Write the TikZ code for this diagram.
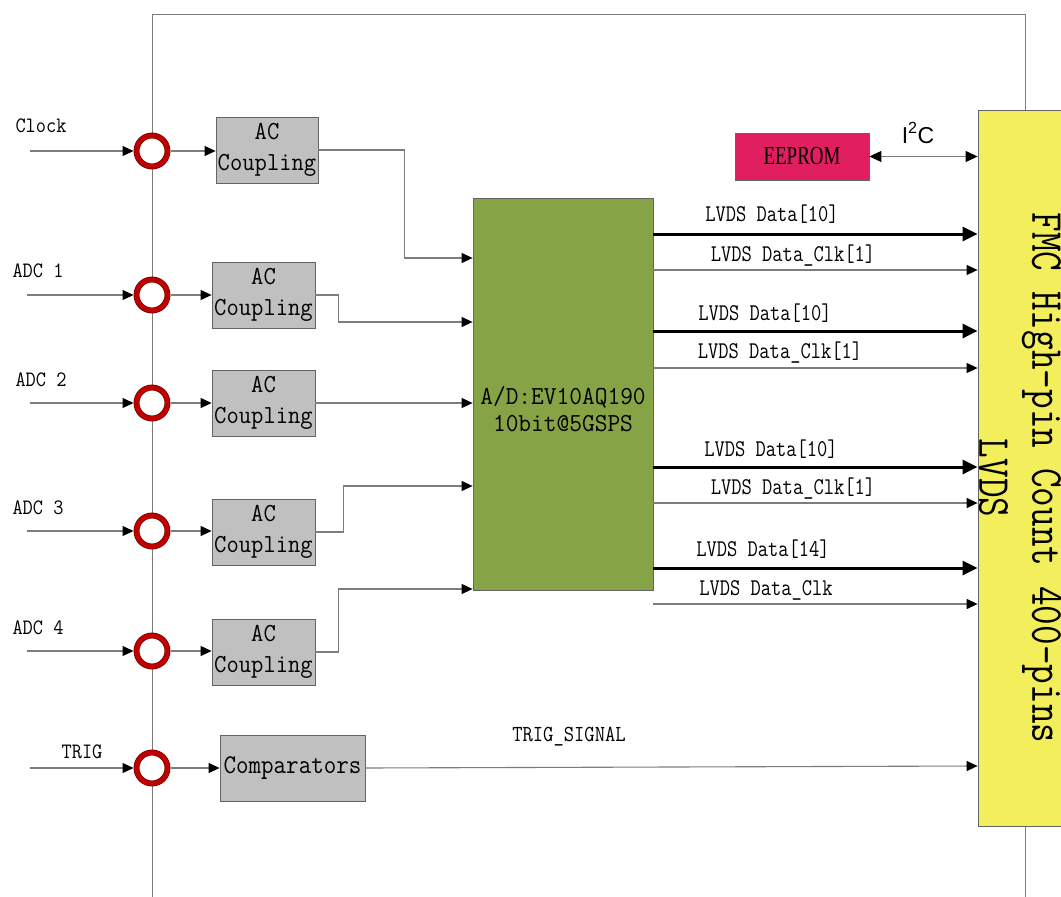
\documentclass[tikz,border=0pt]{standalone}
\usepackage{fontspec}
\newfontfamily\arialf{Liberation Sans}
\newfontfamily\timesf{Liberation Serif}
\usetikzlibrary{arrows.meta}
\newcommand\cnd[2]{\scalebox{#1}[1]{#2}}
\definecolor{wiregray}{RGB}{125,125,125}
\definecolor{boxborder}{RGB}{100,100,100}
\definecolor{ringred}{RGB}{192,0,0}
\definecolor{ringdark}{RGB}{110,0,0}
\definecolor{boxgray}{RGB}{192,192,192}
\definecolor{adcgreen}{RGB}{134,164,70}
\definecolor{fmcyellow}{RGB}{242,238,92}
\definecolor{eepred}{RGB}{224,30,96}
\begin{document}
\begin{tikzpicture}[x=1pt,y=-1pt,
  wire/.style={draw=wiregray,line width=1.1pt},
  awire/.style={wire,-{Triangle[length=11pt,width=10pt,color=black]}},
  bus/.style={draw=black,line width=3pt,-{Triangle[length=15pt,width=14pt]}},
  ring/.style={circle,draw=ringdark,double=ringred,double distance=4.5pt,line width=0.7pt,fill=white,minimum size=31pt,inner sep=0pt,outer sep=3pt},
  acbox/.style={rectangle,draw=boxborder,fill=boxgray,line width=0.8pt,minimum width=103pt,minimum height=66pt,inner sep=0pt,align=center,font=\fontsize{26}{31}\selectfont\ttfamily},
  inlbl/.style={inner sep=0pt,font=\fontsize{22}{26}\selectfont\ttfamily},
  buslbl/.style={inner sep=0pt,font=\fontsize{24}{28}\selectfont\ttfamily},
]
\useasboundingbox (0,0) rectangle (1061,897);
\clip (0,0) rectangle (1061,897);
\fill[white] (0,0) rectangle (1061,897);

% frame
\draw[wire,line width=1pt] (152,900) -- (152,14) -- (1025,14) -- (1025,900);

% FMC connector
\node[rectangle,draw=boxborder,fill=fmcyellow,line width=0.8pt,minimum width=97pt,minimum height=716pt,inner sep=0pt] (fmc) at (1026.5,468) {};
\node[rotate=-90,align=center,inner sep=0pt,font=\fontsize{46}{53}\selectfont\ttfamily] (fmctxt) at (1020,478) {\cnd{0.83}{FMC High-pin Count 400-pins}\\\cnd{0.83}{LVDS}};

% EEPROM
\node[rectangle,draw=boxborder,fill=eepred,line width=0.8pt,minimum width=134pt,minimum height=47pt,inner sep=0pt,font=\fontsize{26}{30}\selectfont\timesf] (eep) at (802,156.5) {\cnd{0.73}{EEPROM}};
\draw[wire,{Triangle[length=12pt,width=11pt,color=black]}-{Triangle[length=12pt,width=11pt,color=black]}] (eep.east) -- (fmc.west |- eep.east);
\node[inner sep=0pt,font=\fontsize{23}{26}\selectfont\arialf] (i2c) at (918,133) {I\textsuperscript{2}C};

% ADC
\node[rectangle,draw=boxborder,fill=adcgreen,line width=0.8pt,minimum width=180pt,minimum height=392pt,inner sep=0pt] (adc) at (563,394) {};
\node[align=center,inner sep=0pt,font=\fontsize{26}{27}\selectfont\ttfamily] (adctxt) at (563,409) {\cnd{0.95}{A/D:EV10AQ190}\\\cnd{0.95}{10bit@5GSPS}};

% rings
\node[ring] (r0) at (152,151) {};
\node[ring] (r1) at (152,295) {};
\node[ring] (r2) at (152,403) {};
\node[ring] (r3) at (152,531) {};
\node[ring] (r4) at (152,651) {};
\node[ring] (r5) at (152,768) {};

% inputs
\coordinate (i0) at (30,151);
\coordinate (i1) at (27,295);
\coordinate (i2) at (30,403);
\coordinate (i3) at (27,531);
\coordinate (i4) at (27,651);
\coordinate (i5) at (30,768);
\foreach \k in {0,...,5}{\draw[awire] (i\k) -- (r\k.west);}
\node[inlbl] (l0) at (41,126) {\cnd{0.9}{Clock}};
\node[inlbl] (l1) at (38,271) {\cnd{0.9}{ADC 1}};
\node[inlbl] (l2) at (41,380) {\cnd{0.9}{ADC 2}};
\node[inlbl] (l3) at (38,508) {\cnd{0.9}{ADC 3}};
\node[inlbl] (l4) at (38,628) {\cnd{0.9}{ADC 4}};
\node[inlbl] (l5) at (82,752) {\cnd{0.9}{TRIG}};

% AC coupling boxes
\node[acbox,minimum width=102pt] (a0) at (267,150) {\cnd{0.92}{AC}\\\cnd{0.92}{Coupling}};
\node[acbox] (a1) at (263.5,295) {\cnd{0.92}{AC}\\\cnd{0.92}{Coupling}};
\node[acbox] (a2) at (263.5,403) {\cnd{0.92}{AC}\\\cnd{0.92}{Coupling}};
\node[acbox] (a3) at (263.5,532) {\cnd{0.92}{AC}\\\cnd{0.92}{Coupling}};
\node[acbox] (a4) at (263.5,652) {\cnd{0.92}{AC}\\\cnd{0.92}{Coupling}};
\node[acbox,minimum width=145pt,font=\fontsize{27}{31}\selectfont\ttfamily] (a5) at (292.5,768) {\cnd{0.9}{Comparators}};
\foreach \k in {0,...,5}{\draw[awire] (r\k.east) -- (a\k.west |- r\k.east);}

% AC -> ADC
\draw[awire] (a0.east) -- ++(86,0) |- (adc.west |- 0,258);
\draw[awire] (a1.east) -- ++(23,0) |- (adc.west |- 0,322);
\draw[awire] (a2.east) -- (adc.west |- a2.east);
\draw[awire] (a3.east) -- ++(28,0) |- (adc.west |- 0,486);
\draw[awire] (a4.east) -- ++(23,0) |- (adc.west |- 0,589);

% ADC -> FMC
\draw[bus] (adc.east |- 0,234) -- (fmc.west |- 0,234);
\draw[awire] (adc.east |- 0,270) -- (fmc.west |- 0,270);
\draw[bus] (adc.east |- 0,331) -- (fmc.west |- 0,331);
\draw[awire] (adc.east |- 0,368) -- (fmc.west |- 0,368);
\draw[bus] (adc.east |- 0,467) -- (fmc.west |- 0,467);
\draw[awire] (adc.east |- 0,503) -- (fmc.west |- 0,503);
\draw[bus] (adc.east |- 0,568) -- (fmc.west |- 0,568);
\draw[awire] (adc.east |- 0,604) -- (fmc.west |- 0,604);
\node[buslbl] (b1) at (772,214) {\cnd{0.83}{LVDS Data[10]}};
\node[buslbl] (b2) at (793,256) {\cnd{0.83}{LVDS Data\_Clk[1]}};
\node[buslbl] (b3) at (765,313) {\cnd{0.83}{LVDS Data[10]}};
\node[buslbl] (b4) at (780,353) {\cnd{0.83}{LVDS Data\_Clk[1]}};
\node[buslbl] (b5) at (771,449) {\cnd{0.83}{LVDS Data[10]}};
\node[buslbl] (b6) at (793,489) {\cnd{0.83}{LVDS Data\_Clk[1]}};
\node[buslbl] (b7) at (763,549) {\cnd{0.83}{LVDS Data[14]}};
\node[buslbl] (b8) at (766,590) {\cnd{0.83}{LVDS Data\_Clk}};

% trigger
\draw[awire] (a5.east) -- (fmc.west |- 0,766);
\node[inner sep=0pt,font=\fontsize{23}{26}\selectfont\ttfamily] (trigs) at (569,737) {\cnd{0.87}{TRIG\_SIGNAL}};
\end{tikzpicture}
\end{document}
